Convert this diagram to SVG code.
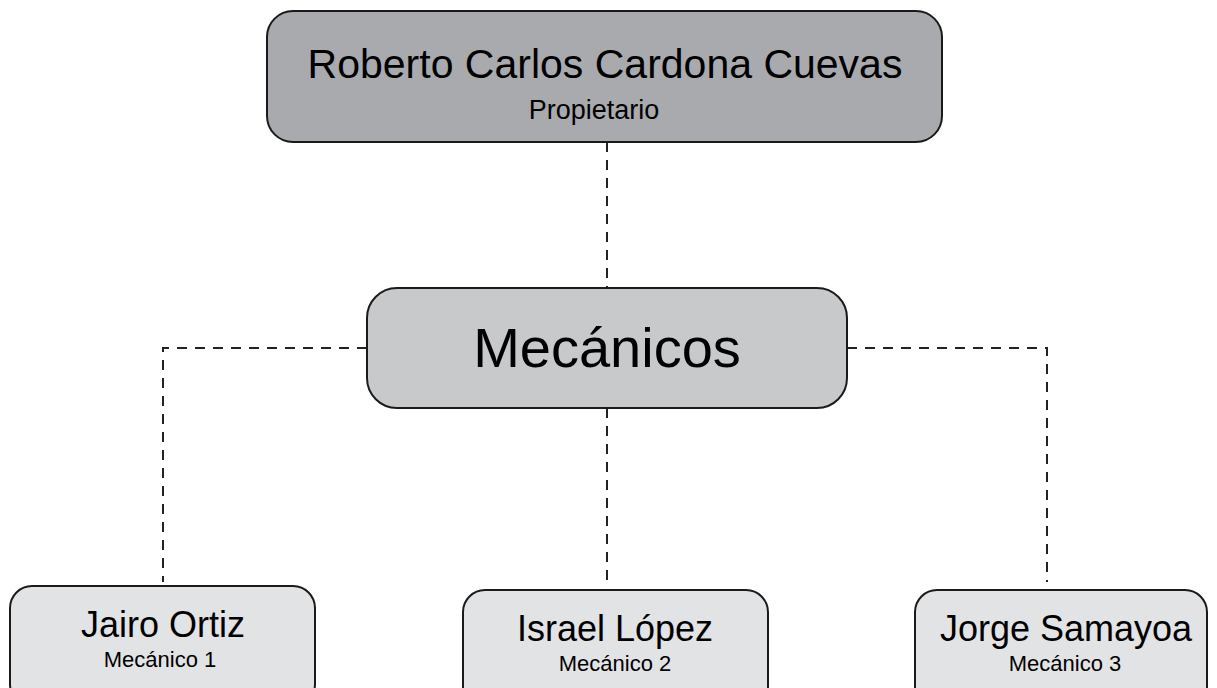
<svg xmlns="http://www.w3.org/2000/svg" width="1217" height="688" viewBox="0 0 1217 688">
<style>
.box{stroke:#1a1a1a;stroke-width:2}
.t{font-family:"Liberation Sans",Arial,sans-serif;fill:#000;text-anchor:middle}
.c{fill:none;stroke:#222;stroke-width:2;stroke-dasharray:10 8}
</style>
<rect width="1217" height="688" fill="#fff"/>
<g id="connectors">
<path class="c" d="M607 142 V288"/>
<path class="c" d="M367 348 H163 V582"/>
<path class="c" d="M847 348 H1047 V582"/>
<path class="c" d="M607 408 V586"/>
</g>
<g id="owner">
<rect class="box" x="267" y="11" width="675" height="131" rx="26" fill="#a9aaae"/>
<text class="t" x="605" y="78" font-size="41">Roberto Carlos Cardona Cuevas</text>
<text class="t" x="594" y="119" font-size="27">Propietario</text>
</g>
<g id="mecanicos">
<rect class="box" x="367" y="288" width="480" height="120" rx="30" fill="#c8c9cb"/>
<text class="t" x="607" y="367" font-size="56">Mecánicos</text>
</g>
<g id="jairo">
<rect class="box" x="10" y="586" width="305" height="120" rx="22" fill="#e2e3e5"/>
<text class="t" x="163" y="637" font-size="36">Jairo Ortiz</text>
<text class="t" x="160" y="667" font-size="22">Mecánico 1</text>
</g>
<g id="israel">
<rect class="box" x="463" y="590" width="305" height="120" rx="22" fill="#e2e3e5"/>
<text class="t" x="615" y="641" font-size="36">Israel López</text>
<text class="t" x="615" y="671" font-size="22">Mecánico 2</text>
</g>
<g id="jorge">
<rect class="box" x="915" y="590" width="292" height="120" rx="22" fill="#e2e3e5"/>
<text class="t" x="1066" y="641" font-size="36">Jorge Samayoa</text>
<text class="t" x="1065" y="671" font-size="22">Mecánico 3</text>
</g>
</svg>
